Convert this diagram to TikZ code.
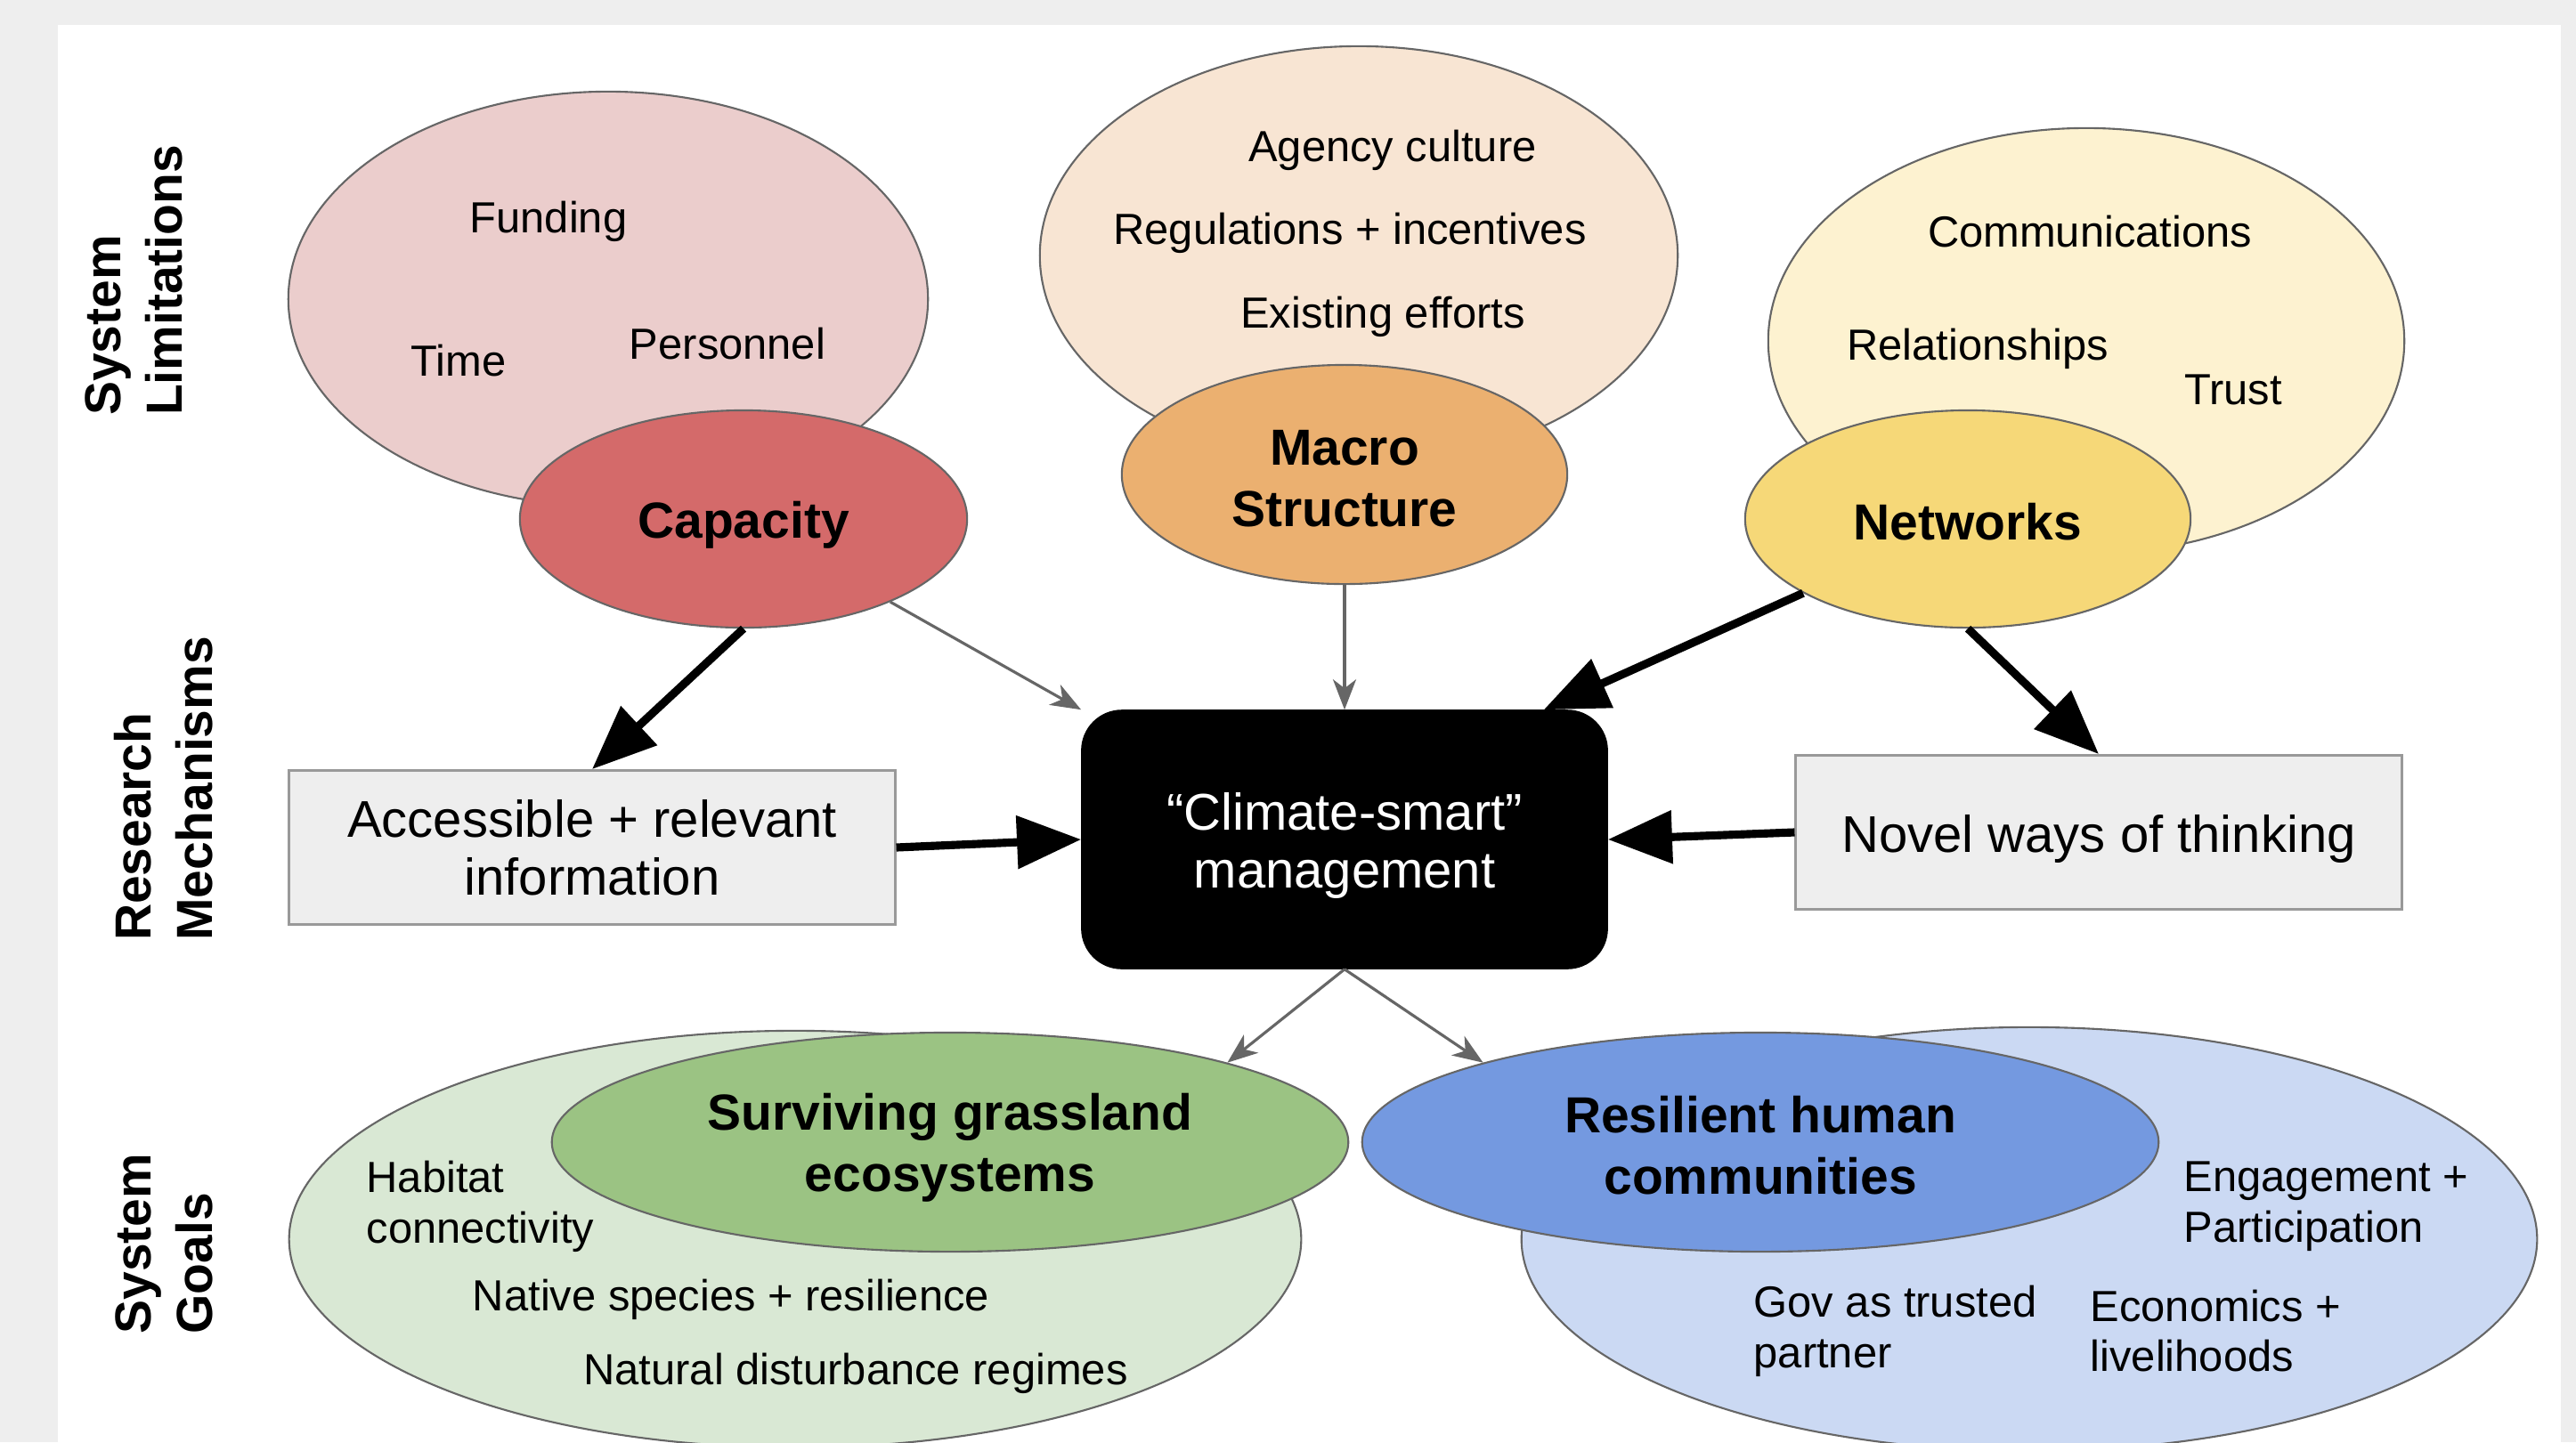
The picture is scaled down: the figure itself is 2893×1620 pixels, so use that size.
\documentclass[tikz,border=0pt]{standalone}
\usepackage{fontspec}
\setmainfont{Liberation Sans}
\usetikzlibrary{shapes.geometric,arrows.meta,calc}

\definecolor{pagegray}{HTML}{EEEEEE}
\definecolor{redlt}{HTML}{EBCDCC}
\definecolor{redmd}{HTML}{D46A6A}
\definecolor{orglt}{HTML}{F8E5D3}
\definecolor{orgmd}{HTML}{EBB070}
\definecolor{yellt}{HTML}{FDF2D0}
\definecolor{yelmd}{HTML}{F6D878}
\definecolor{grnlt}{HTML}{D9E8D4}
\definecolor{grnmd}{HTML}{9BC383}
\definecolor{blult}{HTML}{CBD9F3}
\definecolor{blumd}{HTML}{7499E0}
\definecolor{edgegray}{HTML}{666666}
\definecolor{boxgray}{HTML}{EEEEEE}
\definecolor{boxedge}{HTML}{999999}

\begin{document}
\begin{tikzpicture}[x=0.01cm,y=-0.01cm,
  blob/.style={ellipse, draw=edgegray, line width=0.6pt, inner sep=0pt},
  item/.style={font=\fontsize{13.9}{16.2}\selectfont, align=left, inner sep=0pt},
  head/.style={font=\fontsize{16.2}{19.6}\selectfont\bfseries, align=center, inner sep=0pt},
  rowlabel/.style={font=\fontsize{16.2}{19.6}\selectfont\bfseries, rotate=90, align=left, inner sep=0pt},
  mbox/.style={draw=boxedge, fill=boxgray, line width=0.8pt, minimum width=6.8cm, minimum height=1.73cm, inner sep=0pt},
  boxtext/.style={font=\fontsize{16.5}{18.5}\selectfont, align=center, inner sep=0pt},
  bold arrow/.style={line width=2.6pt, -{Triangle[length=0.72cm,width=0.58cm]}},
  thin arrow/.style={draw=edgegray, line width=0.9pt, -{Stealth[length=0.34cm,width=0.26cm,inset=0.1cm]}},
]
% page and panel
\fill[pagegray] (0,0) rectangle (2893,1620);
\fill[white] (65,28) rectangle (2876,1620);
\useasboundingbox (0,0) rectangle (2893,1620);

% row labels
\node[rowlabel] (lim)  at (150,315)  {System\\Limitations};
\node[rowlabel] (mech) at (184,886)  {Research\\Mechanisms};
\node[rowlabel] (goal) at (184,1397) {System\\Goals};

% system limitations
\node[blob, fill=redlt, minimum width=7.18cm, minimum height=4.66cm] (capbg) at (683,336) {};
\node[item] (fund) at (616,249) {Funding};
\node[item] (time) at (515,405) {Time};
\node[item] (pers) at (817,386) {Personnel};
\node[blob, fill=redmd, minimum width=5.02cm, minimum height=2.44cm] (cap) at (835,583) {};
\node[head] (capt) at ([yshift=-0.07cm]cap) {Capacity};

\node[blob, fill=orglt, minimum width=7.16cm, minimum height=4.70cm] (macbg) at (1526,287) {};
\node[item] (agen) at (1564,169) {Agency culture};
\node[item] (regu) at (1516,262) {Regulations + incentives};
\node[item] (exis) at (1553,356) {Existing efforts};
\node[blob, fill=orgmd, minimum width=5.00cm, minimum height=2.46cm] (mac) at (1510,533) {};
\node[head] (mact) at ([yshift=-0.05cm]mac) {Macro\\Structure};

\node[blob, fill=yellt, minimum width=7.14cm, minimum height=4.78cm] (netbg) at (2343,383) {};
\node[item] (comm) at (2347,260) {Communications};
\node[item] (rela) at (2221,392) {Relationships};
\node[item] (trus) at (2508,438) {Trust};
\node[blob, fill=yelmd, minimum width=5.00cm, minimum height=2.44cm] (net) at (2210,583) {};
\node[head] (nett) at ([yshift=-0.03cm]net) {Networks};

% research mechanisms
\node[mbox] (acc) at (665,952) {};
\node[boxtext] (acct) at (acc) {Accessible + relevant\\information};
\node[mbox] (nov) at (2357,935) {};
\node[boxtext] (novt) at ([yshift=-0.07cm]nov) {Novel ways of thinking};
\node[fill=black, draw=black, rounded corners=0.45cm, minimum width=5.9cm, minimum height=2.9cm, inner sep=0pt]
      (cc) at (1510,943) {};
\node[boxtext, text=white] (cct) at ([yshift=-0.07cm]cc) {“Climate-smart”\\management};

% system goals
\node[blob, fill=grnlt, minimum width=11.36cm, minimum height=4.68cm] (grnbg) at (893,1392) {};
\node[blob, fill=grnmd, minimum width=8.94cm, minimum height=2.46cm] (surv) at (1067,1283) {};
\node[head] (survt) at ([yshift=-0.06cm]surv) {Surviving grassland\\ecosystems};
\node[item, anchor=west] (habi) at (411,1355) {Habitat\\connectivity};
\node[item] (nati) at (821,1460) {Native species + resilience};
\node[item] (natu) at (961,1543) {Natural disturbance regimes};

\node[blob, fill=blult, minimum width=11.40cm, minimum height=4.76cm] (blubg) at (2279,1392) {};
\node[blob, fill=blumd, minimum width=8.94cm, minimum height=2.46cm] (res) at (1977,1283) {};
\node[head] (rest) at ([yshift=-0.04cm]res) {Resilient human\\communities};
\node[item, anchor=west] (enga) at (2452,1355) {Engagement +\\Participation};
\node[item, anchor=west] (gov)  at (1969,1495) {Gov as trusted\\partner};
\node[item, anchor=west] (econ) at (2347,1495) {Economics +\\livelihoods};

% connectors
\draw[bold arrow] (cap.south) -- (acc.north);
\draw[thin arrow] (cap) -- (cc.north west);
\draw[thin arrow] (mac.south) -- (cc.north);
\draw[bold arrow] (net) -- ([xshift=-0.72cm]cc.north east);
\draw[bold arrow] (net.south) -- (nov.north);
\draw[bold arrow] (acc.east) -- (cc.west);
\draw[bold arrow] (nov.west) -- (cc.east);
\draw[thin arrow] (cc.south) -- (surv.16);
\draw[thin arrow] (cc.south) -- (res.164);
\end{tikzpicture}
\end{document}
